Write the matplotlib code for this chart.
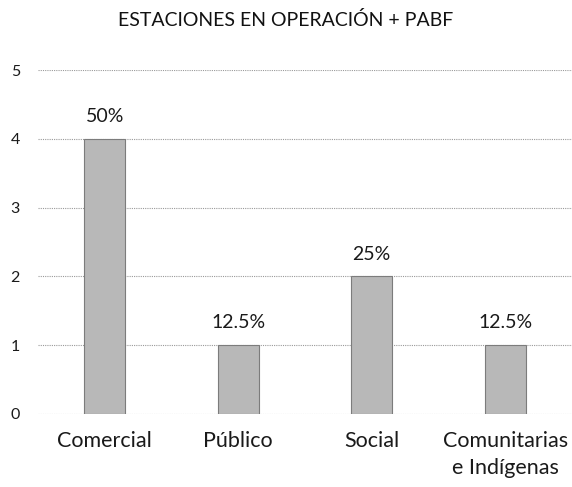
import matplotlib
matplotlib.use('Agg')
import matplotlib.pyplot as plt

plt.rcParams['font.family'] = ['Lato', 'DejaVu Sans']

categories = ['Comercial', 'Público', 'Social', 'Comunitarias\ne Indígenas']
values = [4, 1, 2, 1]
pct_labels = ['50%', '12.5%', '25%', '12.5%']
y_ticks = [0, 1, 2, 3, 4, 5]

fig = plt.figure(figsize=(5.72, 4.87), dpi=100)
ax = fig.add_axes([0.0664, 0.15, 0.9336, 0.706])

x = range(len(categories))
bars = ax.bar(x, values, width=0.31, color='#b8b8b8', edgecolor='#7c7c7c',
              linewidth=0.8, zorder=3)

for b, lab in zip(bars, pct_labels):
    ax.annotate(lab, (b.get_x() + b.get_width() / 2, b.get_height()),
                xytext=(0, 16), textcoords='offset points',
                ha='center', va='center', fontsize=14, color='#1a1a1a')

ax.set_xlim(-0.5, 3.5)
ax.set_ylim(0, 5)
ax.set_yticks(y_ticks)
ax.set_xticks(list(x))
ax.set_xticklabels(categories, fontsize=15.5, color='#1a1a1a', linespacing=1.45)
ax.tick_params(axis='both', length=0, colors='#1a1a1a')
ax.tick_params(axis='y', pad=13, labelsize=11.5)
ax.tick_params(axis='x', pad=12)
ax.grid(axis='y', linestyle=(0, (1, 1)), color='#9a9a9a', linewidth=0.8, zorder=0)
for s in ax.spines.values():
    s.set_visible(False)

fig.text(0.5, 0.958, 'ESTACIONES EN OPERACIÓN + PABF', ha='center', va='center',
         fontsize=14, color='#111111')

fig.savefig('out.png', dpi=100)
